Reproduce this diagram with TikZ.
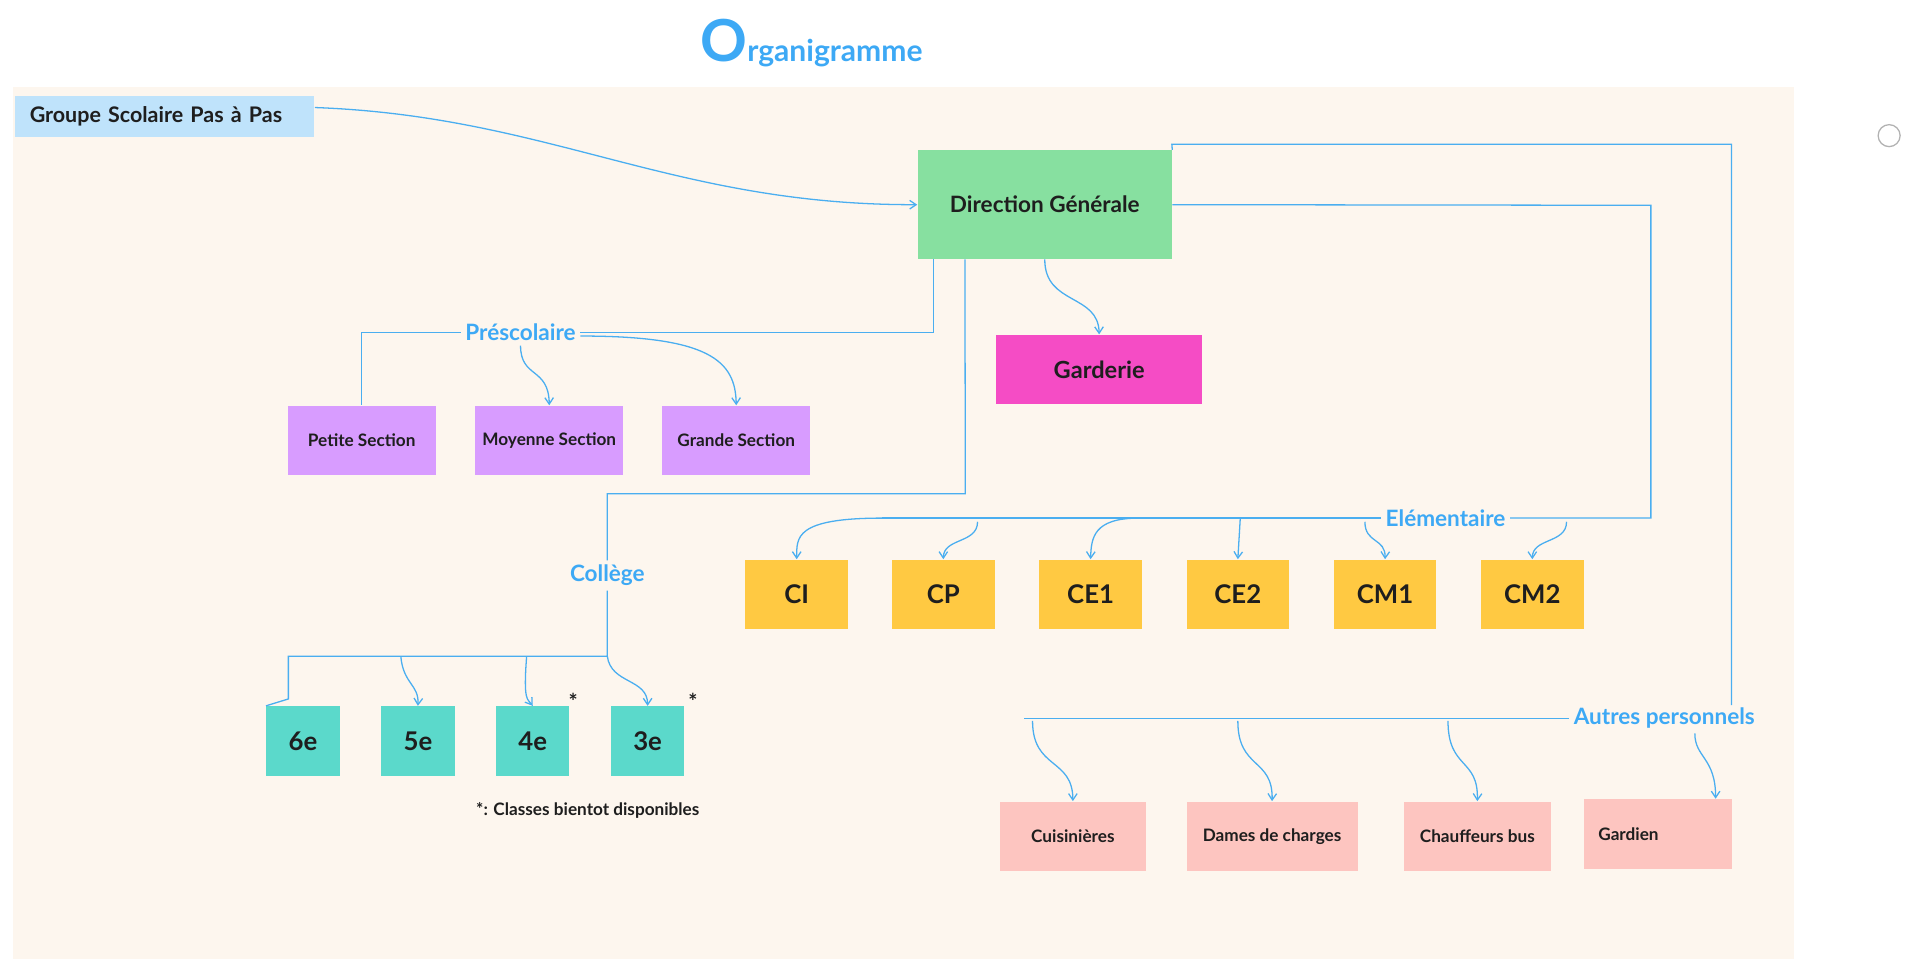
\documentclass[tikz,border=0pt]{standalone}
\usepackage{fontspec}
\setmainfont{Lato}
\usetikzlibrary{arrows.meta}
\definecolor{bg}{HTML}{FDF6EE}
\definecolor{ln}{HTML}{4AAEF0}
\definecolor{blu}{HTML}{3DA9F5}
\definecolor{grp}{HTML}{BFE3FB}
\definecolor{grn}{HTML}{87E0A0}
\definecolor{pnk}{HTML}{F54CC5}
\definecolor{pur}{HTML}{D89CFF}
\definecolor{yel}{HTML}{FFC942}
\definecolor{tea}{HTML}{5BD9CB}
\definecolor{sal}{HTML}{FDC5C0}
\definecolor{txt}{HTML}{1E1E1E}
\begin{document}
\begin{tikzpicture}[x=0.02cm,y=-0.02cm,
  box/.style={draw=none,minimum width=#1*0.02cm,inner sep=0pt,text=txt,font=\bfseries,align=center},
  bx/.style 2 args={box=#1,minimum height=#2*0.02cm},
  lab/.style={text=blu,font=\bfseries\fontsize{10.5}{12}\selectfont,fill=bg,inner sep=2pt},
  con/.style={draw=ln,line width=0.6pt},
  arr/.style={con,-{Straight Barb[length=3pt,width=4pt]}}]
\useasboundingbox (0,0) rectangle (1568,797);
\fill[bg] (11,71) rectangle (1468,785);
\node[text=blu,font=\bfseries\fontsize{14}{16}\selectfont,anchor=base west] (title) at (567,50) {{\fontsize{27}{28}\selectfont O}rganigramme};
\draw[gray!60,line width=0.6pt] (1546,111) circle (9);
\node (grp) [bx={245}{34},fill=grp,anchor=north west,text width=221*0.02cm,align=left,font=\bfseries\fontsize{10}{12}\selectfont] at (12,78) {Groupe Scolaire Pas à Pas};
\node (dir) [bx={208}{89},fill=grn,font=\bfseries\fontsize{10.5}{12}\selectfont] at (855,167.5) {Direction Générale};
\node (gar) [bx={169}{57},fill=pnk,font=\bfseries\fontsize{11}{12}\selectfont] at (899.5,302.5) {Garderie};
\tikzset{pu/.style={bx={121}{57},fill=pur,font=\bfseries\fontsize{8}{10}\selectfont}}
\node (ps) [pu] at (296,360.5) {Petite Section};
\node (ms) [pu] at (449.5,360.5) {Moyenne Section};
\node (gs) [pu] at (602.5,360.5) {Grande Section};
\tikzset{ye/.style={bx={84}{57},fill=yel,font=\bfseries\fontsize{12}{14}\selectfont}}
\node (ci) [ye] at (652,486.5) {CI};
\node (cp) [ye] at (772,486.5) {CP};
\node (ce1) [ye] at (892.5,486.5) {CE1};
\node (ce2) [ye] at (1013,486.5) {CE2};
\node (cm1) [ye] at (1133.5,486.5) {CM1};
\node (cm2) [ye] at (1254,486.5) {CM2};
\tikzset{te/.style={bx={60}{57},fill=tea,font=\bfseries\fontsize{12}{14}\selectfont}}
\node (s6) [te] at (248,606.5) {6e};
\node (s5) [te] at (342,606.5) {5e};
\node (s4) [te] at (436,606.5) {4e};
\node (s3) [te] at (530,606.5) {3e};
\node (st1) [text=txt,font=\bfseries\fontsize{10}{12}\selectfont,inner sep=0pt] at (469,574) {*};
\node (st2) [text=txt,font=\bfseries\fontsize{10}{12}\selectfont,inner sep=0pt] at (567,574) {*};
\node (fn) [text=txt,font=\bfseries\fontsize{8}{10}\selectfont,inner sep=0pt] at (481,663) {*: Classes bientot disponibles};
\tikzset{sa/.style={bx={#1}{57},fill=sal,font=\bfseries\fontsize{8}{10}\selectfont}}
\node (cui) [sa=120] at (878,684.5) {Cuisinières};
\node (dam) [sa=140] at (1041,684.5) {Dames de charges};
\node (cha) [sa=120] at (1209,684.5) {Chauffeurs bus};
\node (gard) [sa=121,text width=97*0.02cm,align=left] at (1356.5,682.5) {Gardien};
\node (pre) [lab] at (426,272) {Préscolaire};
\node (ele) [lab] at (1183,424) {Elémentaire};
\node (col) [lab] at (497,471) {Collège};
\node (aut) [lab] at (1362,588) {Autres personnels};
% connectors
\draw[arr] (grp.north east) ++(0,10) .. controls (450,95) and (550,168) .. (dir.west);
\draw[con] (dir.south west) ++(13,0) |- (pre.east);
\draw[con] (pre.west) -| (ps.north);
\draw[arr] (pre.south) .. controls (426,310) and (449,300) .. (ms.north);
\draw[arr] (pre.east) ++(0,3) .. controls (580,275) and (602,295) .. (gs.north);
\draw[arr] (dir.south) .. controls (855,250) and (899,240) .. (gar.north);
\coordinate (c1) at (790,404);
\draw[con] (dir.south west) ++(39,0) -- (c1) -| (col.north);
\coordinate (c2) at (236,537);
\coordinate (c3) at (497,537);
\draw[con] (col.south) -- (c3) -- (c2) -- (236,572) -- (s6.north west);
\draw[arr] (328,537) .. controls (330,560) and (343,560) .. (s5.north);
\draw[arr] (431,537) .. controls (428,575) and (432,572) .. (s4.north);
\draw[arr] (497,537) .. controls (500,560) and (530,555) .. (s3.north);
\coordinate (c4) at (1351,168);
\draw[con] (dir.east) -- (c4) |- (ele.east);
\coordinate (c5) at (722,424);
\draw[con] (ele.west) -- (c5);
\draw[arr] (c5) .. controls (650,424) and (652,440) .. (ci.north);
\draw[arr] (800,427) .. controls (800,445) and (772,440) .. (cp.north);
\draw[arr] (932,424) .. controls (895,424) and (893,440) .. (ce1.north);
\draw[arr] (1015,424) -- (ce2.north);
\draw[arr] (1117,427) .. controls (1117,445) and (1134,440) .. (cm1.north);
\draw[arr] (1282,427) .. controls (1282,445) and (1254,440) .. (cm2.north);
\coordinate (c6) at (959,118);
\coordinate (c7) at (1417,118);
\draw[con] (dir.north east) -- (c6) -- (c7) |- ++(0,459) coordinate (c8);
\coordinate (c9) at (838,588);
\draw[con] (aut.west) -- (c9);
\draw[arr] (845,590) .. controls (845,630) and (878,620) .. (cui.north);
\draw[arr] (1013,590) .. controls (1013,630) and (1042,620) .. (dam.north);
\draw[arr] (1185,590) .. controls (1185,630) and (1210,620) .. (cha.north);
\draw[arr] (aut.south) ++(25,0) .. controls (1387,620) and (1404,620) .. (gard.north -| 1404,0);
\end{tikzpicture}
\end{document}
